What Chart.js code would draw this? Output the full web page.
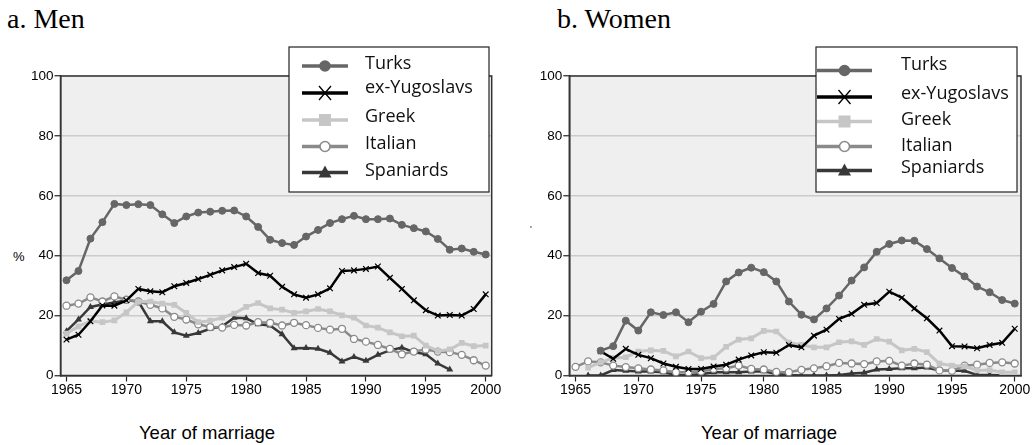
<!DOCTYPE html>
<html>
<head>
<meta charset="utf-8">
<script src="https://cdn.jsdelivr.net/npm/chart.js@4.4.0/dist/chart.umd.min.js"></script>
<style>
  body { margin: 0; background: #fff; width: 1033px; height: 445px; position: relative; overflow: hidden; }
  canvas { position: absolute; top: 0; }
  .t { position: absolute; white-space: nowrap; color: #000; }
  .head { font-family: "Liberation Serif", serif; font-size: 28px; top: 3px; }
  .xt { font-family: "Liberation Sans", Arial, sans-serif; font-size: 18.5px; top: 422px; transform: translateX(-50%); }
  .yt { font-family: "Liberation Sans", Arial, sans-serif; font-size: 13px; }
</style>
</head>
<body>
<div class="t head" style="left:7px">a. Men</div>
<div class="t head" style="left:557px">b. Women</div>
<div class="t xt" style="left:207px">Year of marriage</div>
<div class="t xt" style="left:769px">Year of marriage</div>
<div class="t yt" style="left:13px;top:249px">%</div>
<div class="t yt" style="left:530px;top:224px;font-size:9px">'</div>
<canvas id="men" width="510" height="445" style="left:0"></canvas>
<canvas id="women" width="513" height="445" style="left:520px"></canvas>
<script>
const years = [1965,1966,1967,1968,1969,1970,1971,1972,1973,1974,1975,1976,1977,1978,1979,1980,1981,1982,
  1983,1984,1985,1986,1987,1988,1989,1990,1991,1992,1993,1994,1995,1996,1997,1998,1999,2000];
const xTicks = [1965, 1970, 1975, 1980, 1985, 1990, 1995, 2000];
const yTicks = [0, 20, 40, 60, 80, 100];
const groups = ["Turks", "ex-Yugoslavs", "Greek", "Italian", "Spaniards"];

// a. Men
const menTurks = [31.8,34.9,45.7,51.2,57.3,56.9,57.2,56.9,53.8,50.9,53.1,54.4,54.7,55.0,55.1,53.1,49.6,45.3,
  44.2,43.6,46.4,48.6,50.9,52.2,53.3,52.2,52.2,52.4,50.3,49.2,48.1,45.6,42.0,42.4,41.3,40.4];
const menYugo = [12.0,13.6,18.1,23.4,23.3,25.1,28.9,28.1,27.8,29.8,30.9,32.2,33.6,35.1,36.2,37.3,34.2,33.3,
  29.6,27.1,26.0,27.1,29.1,34.9,35.1,35.6,36.4,32.6,28.9,25.1,21.8,20.0,20.2,20.0,22.2,27.1];
const menGreek = [14.0,16.4,18.2,17.8,18.4,21.1,24.7,24.7,24.0,23.6,20.9,17.8,18.3,19.3,20.7,22.9,24.2,22.4,
  22.0,20.9,21.4,22.2,21.4,20.1,19.3,16.7,16.0,14.4,13.1,13.3,10.0,8.2,8.7,10.9,9.8,10.0];
const menItalian = [23.3,24.0,26.1,24.7,26.4,25.3,24.7,23.6,22.4,19.6,18.7,17.1,16.2,16.0,16.9,16.7,17.8,17.6,
  16.7,17.6,16.8,15.9,15.3,15.6,12.2,11.3,10.2,8.9,7.1,8.0,8.7,8.0,7.8,6.9,5.1,3.3];
const menSpaniards = [14.8,18.7,22.9,23.7,24.4,25.1,24.7,18.1,18.1,14.4,13.3,14.2,15.6,16.4,19.3,19.1,17.1,16.7,
  13.8,9.1,9.2,8.9,7.6,4.7,6.2,4.9,6.9,8.4,9.3,7.8,7.1,4.0,2.0,null,null,null];

// b. Women
const womenTurks = [null,null,8.3,9.8,18.3,15.0,21.1,20.2,21.1,17.8,21.3,23.9,31.4,34.4,36.0,34.5,31.4,24.7,
  20.3,18.7,22.4,26.7,31.7,36.1,41.3,43.9,45.1,45.0,42.2,39.1,35.9,33.1,29.7,27.8,25.2,24.0];
const womenYugo = [null,null,8.1,5.6,8.9,6.9,5.8,4.0,2.9,2.2,2.2,3.0,3.6,5.3,6.7,7.8,7.6,10.2,
  9.4,13.3,15.3,18.9,20.6,23.6,24.2,28.0,26.0,22.4,19.1,15.0,9.8,9.7,9.1,10.2,10.9,15.6];
const womenGreek = [null,2.6,4.4,5.8,6.1,8.0,8.4,8.2,6.4,8.0,5.8,6.0,9.6,12.0,12.4,14.9,14.7,11.0,
  10.2,9.4,9.4,11.1,11.4,10.2,12.2,11.3,8.4,8.9,7.8,4.0,3.3,3.1,1.7,1.8,1.1,1.1];
const womenItalian = [2.9,4.7,4.4,3.3,2.8,2.4,2.0,1.7,1.1,1.1,1.3,2.2,2.4,3.3,2.2,2.0,1.2,1.1,
  1.9,2.4,3.1,4.2,4.0,3.8,4.7,4.9,3.3,4.0,3.6,1.7,1.6,3.3,3.6,4.2,4.4,4.0];
const womenSpaniards = [null,0,0,1.8,1.6,1.3,1.3,1.1,0.2,0.2,0.4,1.1,1.1,1.1,1.3,1.4,0.5,0.2,
  0,0,0,0.2,0.7,0.9,2.0,2.2,2.4,2.4,2.7,1.7,1.6,1.6,0.2,0.2,0.1,null];

const styles = [
  { color: "#666666", fill: "#666666", point: "circle", r: 3.5, bw: 1, lw: 2.5 },
  { color: "#000000", fill: "#000000", point: "crossRot", r: 4, bw: 1.2, lw: 2.5 },
  { color: "#c6c6c6", fill: "#c6c6c6", point: "rect", r: 4, bw: 0, lw: 3 },
  { color: "#8a8a8a", fill: "#ffffff", point: "circle", r: 3.5, bw: 1.3, lw: 2.5 },
  { color: "#383838", fill: "#383838", point: "triangle", r: 4, bw: 0, lw: 2.5 },
];

function toPoints(arr) {
  return years.map((y, i) => ({ x: y, y: arr[i] })).filter(p => p.y !== null);
}

function legendMarker(ctx, st, x, y) {
  ctx.save();
  ctx.fillStyle = st.fill;
  ctx.strokeStyle = st.color;
  if (st.point === "circle") {
    ctx.lineWidth = 1.6;
    ctx.beginPath(); ctx.arc(x, y, 5, 0, Math.PI * 2); ctx.fill(); ctx.stroke();
  } else if (st.point === "rect") {
    ctx.fillRect(x - 6, y - 6, 12, 12);
  } else if (st.point === "triangle") {
    ctx.beginPath(); ctx.moveTo(x, y - 7); ctx.lineTo(x + 6.5, y + 5); ctx.lineTo(x - 6.5, y + 5); ctx.closePath(); ctx.fill();
  } else {
    ctx.lineWidth = 1.3;
    ctx.beginPath(); ctx.moveTo(x - 6, y - 7); ctx.lineTo(x + 6, y + 7); ctx.moveTo(x + 6, y - 7); ctx.lineTo(x - 6, y + 7); ctx.stroke();
  }
  ctx.restore();
}

function makeChart(id, series, area, legend) {
  const canvasW = document.getElementById(id).width;
  const datasets = series.map((arr, i) => ({
    label: groups[i],
    data: toPoints(arr),
    borderColor: styles[i].color,
    backgroundColor: styles[i].fill,
    borderWidth: styles[i].lw,
    pointStyle: styles[i].point,
    pointRadius: styles[i].r,
    pointBorderWidth: styles[i].bw,
    pointBorderColor: styles[i].color,
    pointBackgroundColor: styles[i].fill,
    tension: 0,
  }));

  const framePlugin = {
    id: "frame",
    beforeDraw(chart) {
      const a = chart.chartArea, ctx = chart.ctx;
      ctx.save();
      ctx.fillStyle = "#efefef";
      ctx.fillRect(a.left, a.top, a.right - a.left, a.bottom - a.top);
      ctx.restore();
    },
    beforeDatasetsDraw(chart) {
      const a = chart.chartArea, ctx = chart.ctx;
      ctx.save();
      ctx.strokeStyle = "#333";
      ctx.lineWidth = 1.5;
      ctx.strokeRect(a.left, a.top, a.right - a.left, a.bottom - a.top);
      ctx.restore();
    },
    afterDraw(chart) {
      const ctx = chart.ctx, L = legend;
      ctx.save();
      ctx.fillStyle = "#fff";
      ctx.fillRect(L.x, L.y, L.w, L.h);
      ctx.strokeStyle = "#222";
      ctx.lineWidth = 1.2;
      ctx.strokeRect(L.x, L.y, L.w, L.h);
      groups.forEach((g, i) => {
        const st = styles[i];
        ctx.strokeStyle = st.color;
        ctx.lineWidth = 3.5;
        ctx.beginPath();
        ctx.moveTo(L.lx0, L.lineY[i]);
        ctx.lineTo(L.lx1, L.lineY[i]);
        ctx.stroke();
        legendMarker(ctx, st, (L.lx0 + L.lx1) / 2, L.lineY[i]);
        ctx.fillStyle = "#111";
        ctx.font = "18px 'Open Sans'";
        ctx.textBaseline = "middle";
        ctx.fillText(g, L.tx, L.textY[i]);
      });
      ctx.restore();
    },
  };

  return new Chart(document.getElementById(id), {
    type: "line",
    data: { datasets: datasets },
    options: {
      responsive: false,
      animation: false,
      layout: { padding: { left: 0, top: area.top, right: canvasW - area.right, bottom: 0 } },
      plugins: { legend: { display: false }, tooltip: { enabled: false } },
      scales: {
        x: {
          type: "linear",
          min: 1964.5,
          max: 2000.5,
          afterFit(s) { s.height = 445 - area.bottom; },
          afterBuildTicks(s) { s.ticks = xTicks.map(v => ({ value: v })); },
          grid: { drawOnChartArea: false, drawTicks: true, tickLength: 6, tickColor: "#222", tickWidth: 1.2 },
          border: { color: "#222", width: 1.5 },
          ticks: { color: "#000", font: { family: "'Liberation Sans', Arial", size: 14 }, padding: 0, maxRotation: 0,
                   callback: v => String(v) },
        },
        y: {
          min: 0,
          max: 100,
          afterFit(s) { s.width = area.left; },
          afterBuildTicks(s) { s.ticks = yTicks.map(v => ({ value: v })); },
          grid: { color: "#cbcbcb", lineWidth: 1.5, drawTicks: true, tickLength: 6, tickColor: "#222", tickWidth: 1.2 },
          border: { color: "#222", width: 1.5 },
          ticks: { color: "#000", font: { family: "'Liberation Sans', Arial", size: 13.5 }, padding: 1 },
        },
      },
    },
    plugins: [framePlugin],
  });
}

makeChart("men", [menTurks, menYugo, menGreek, menItalian, menSpaniards],
  { left: 60.5, right: 491.7, top: 76, bottom: 375.5 },
  { x: 289, y: 47, w: 200, h: 145, lx0: 302, lx1: 348, tx: 365,
    lineY: [66, 93, 120, 146.5, 172.5], textY: [64, 88, 117, 144, 171] });

makeChart("women", [womenTurks, womenYugo, womenGreek, womenItalian, womenSpaniards],
  { left: 49.3, right: 501, top: 76, bottom: 375.5 },
  { x: 296, y: 47, w: 201, h: 145, lx0: 297, lx1: 352, tx: 381,
    lineY: [70.5, 97, 121.5, 146.5, 170.5], textY: [65, 94, 120, 146, 168] });
</script>
</body>
</html>
